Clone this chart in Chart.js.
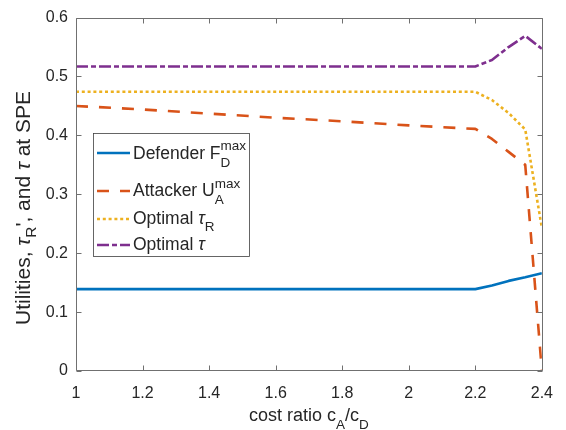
<!DOCTYPE html>
<html>
<head>
<meta charset="utf-8">
<script src="https://cdn.jsdelivr.net/npm/chart.js@4/dist/chart.umd.min.js"></script>
<style>
html,body{margin:0;padding:0;background:#ffffff;}
canvas{display:block;}
</style>
</head>
<body>
<canvas id="c" width="566" height="430"></canvas>
<script>
// ---- data ----
const costRatio   = [1.0, 1.2, 1.4, 1.6, 1.8, 2.0, 2.2, 2.25, 2.3, 2.35, 2.4];
const defenderF   = [0.139, 0.139, 0.139, 0.139, 0.139, 0.139, 0.139, 0.145, 0.153, 0.159, 0.166];
const attackerU   = [0.450, 0.444, 0.437, 0.430, 0.424, 0.417, 0.411, 0.394, 0.372, 0.350, 0.000];
const optimalTauR = [0.474, 0.474, 0.474, 0.474, 0.474, 0.474, 0.474, 0.460, 0.438, 0.410, 0.243];
const optimalTau  = [0.517, 0.517, 0.517, 0.517, 0.517, 0.517, 0.517, 0.528, 0.550, 0.569, 0.547];
const xTicks = [1, 1.2, 1.4, 1.6, 1.8, 2, 2.2, 2.4];
const yTicks = [0, 0.1, 0.2, 0.3, 0.4, 0.5, 0.6];
const xTickLabels = ['1', '1.2', '1.4', '1.6', '1.8', '2', '2.2', '2.4'];
const yTickLabels = ['0', '0.1', '0.2', '0.3', '0.4', '0.5', '0.6'];

const FONT = '"Liberation Sans", Arial, Helvetica, sans-serif';
const TXT = '#262626';
const AXC = '#707070';
const COLORS = {blue: '#0072BD', orange: '#D95319', yellow: '#EDB120', purple: '#7E2F8E'};
const DASH = {solid: [], dashed: [12, 11], dotted: [3, 2.8], dashdot: [12, 3, 5, 3]};

function pts(ys) { return costRatio.map((x, i) => ({x: x, y: ys[i]})); }

function ds(label, ys, color, dash) {
  return {
    label: label, data: pts(ys), borderColor: color, backgroundColor: color,
    borderWidth: 2.6, borderDash: dash, borderCapStyle: 'butt', borderJoinStyle: 'round',
    pointRadius: 0, tension: 0, fill: false
  };
}

function drawRuns(ctx, runs, x, y, measureOnly) {
  let cx = x, pend = 0;
  for (const r of runs) {
    ctx.font = (r.it ? 'italic ' : '') + r.s + 'px ' + FONT;
    const w = ctx.measureText(r.t).width;
    if (!measureOnly) ctx.fillText(r.t, cx, y + (r.dy || 0));
    if (r.stack) { pend = w; } else { cx += Math.max(w, pend); pend = 0; }
  }
  return cx - x;
}

const legendItems = [
  {color: COLORS.blue, dash: DASH.solid, lineY: 153, base: 158.5,
   runs: [{t: 'Defender F', s: 17.5}, {t: 'max', s: 13.5, dy: -8.5, stack: true}, {t: 'D', s: 13.5, dy: 8}]},
  {color: COLORS.orange, dash: DASH.dashed, lineY: 191, base: 196,
   runs: [{t: 'Attacker U', s: 17.5}, {t: 'max', s: 13.5, dy: -8.5, stack: true}, {t: 'A', s: 13.5, dy: 8}]},
  {color: COLORS.yellow, dash: DASH.dotted, lineY: 219, base: 224,
   runs: [{t: 'Optimal ', s: 17.5}, {t: 'τ', s: 17.5, it: true}, {t: 'R', s: 13.5, dy: 7}]},
  {color: COLORS.purple, dash: DASH.dashdot, lineY: 245, base: 250,
   runs: [{t: 'Optimal ', s: 17.5}, {t: 'τ', s: 17.5, it: true}]}
];

const decor = {
  id: 'decor',
  afterDatasetsDraw(chart) {
    const ctx = chart.ctx, a = chart.chartArea, xs = chart.scales.x, ys = chart.scales.y;
    ctx.save();
    // box + inward ticks
    const L = Math.round(a.left) + 0.5, R = Math.round(a.right) + 0.5;
    const T = Math.round(a.top) + 0.5, B = Math.round(a.bottom) - 0.5;
    ctx.strokeStyle = AXC; ctx.lineWidth = 1; ctx.setLineDash([]);
    ctx.beginPath();
    ctx.rect(L, T, R - L, B - T);
    for (const v of xTicks) {
      const px = Math.round(xs.getPixelForValue(v)) + 0.5;
      ctx.moveTo(px, B); ctx.lineTo(px, B - 5);
      ctx.moveTo(px, T); ctx.lineTo(px, T + 5);
    }
    for (const v of yTicks) {
      const py = Math.round(ys.getPixelForValue(v)) + 0.5;
      ctx.moveTo(L, py); ctx.lineTo(L + 5, py);
      ctx.moveTo(R, py); ctx.lineTo(R - 5, py);
    }
    ctx.stroke();

    // legend
    const bx = 93.5, by = 133.5, bw = 156, bh = 123;
    ctx.fillStyle = '#ffffff';
    ctx.fillRect(bx, by, bw, bh);
    ctx.strokeStyle = '#404040'; ctx.lineWidth = 0.8;
    ctx.strokeRect(bx, by, bw, bh);
    for (const it of legendItems) {
      ctx.strokeStyle = it.color; ctx.lineWidth = 2.6; ctx.lineCap = 'butt';
      ctx.setLineDash(it.dash);
      ctx.beginPath(); ctx.moveTo(97, it.lineY); ctx.lineTo(130, it.lineY); ctx.stroke();
      ctx.setLineDash([]);
      ctx.fillStyle = TXT; ctx.textAlign = 'left'; ctx.textBaseline = 'alphabetic';
      drawRuns(ctx, it.runs, 133, it.base);
    }

    // x title
    ctx.fillStyle = TXT; ctx.textAlign = 'left'; ctx.textBaseline = 'alphabetic';
    const xr = [{t: 'cost ratio c', s: 18}, {t: 'A', s: 13.5, dy: 8}, {t: '/c', s: 18}, {t: 'D', s: 13.5, dy: 8}];
    const xw = drawRuns(ctx, xr, 0, 0, true);
    drawRuns(ctx, xr, (a.left + a.right) / 2 - xw / 2, 421);

    // y title (rotated)
    const yr = [{t: 'Utilities, ', s: 21}, {t: 'τ', s: 21, it: true}, {t: 'R', s: 15.5, dy: 6},
                {t: "', and ", s: 21}, {t: 'τ', s: 21, it: true}, {t: ' at SPE', s: 21}];
    const yw = drawRuns(ctx, yr, 0, 0, true);
    ctx.translate(30, 208);
    ctx.rotate(-Math.PI / 2);
    drawRuns(ctx, yr, -yw / 2, 0);
    ctx.restore();
  }
};

new Chart(document.getElementById('c'), {
  type: 'line',
  data: {
    datasets: [
      ds('Defender F_D^max', defenderF, COLORS.blue, DASH.solid),
      ds('Attacker U_A^max', attackerU, COLORS.orange, DASH.dashed),
      ds('Optimal τ_R', optimalTauR, COLORS.yellow, DASH.dotted),
      ds('Optimal τ', optimalTau, COLORS.purple, DASH.dashdot)
    ]
  },
  options: {
    responsive: false, animation: false, devicePixelRatio: 1,
    layout: {padding: {top: 15, right: 23, left: 0, bottom: 0}},
    plugins: {legend: {display: false}, tooltip: {enabled: false}},
    scales: {
      x: {
        type: 'linear', min: 1, max: 2.4,
        grid: {display: false, drawTicks: false}, border: {display: false},
        afterBuildTicks: s => { s.ticks = xTicks.map(v => ({value: v})); },
        afterFit: s => { s.height = 59; },
        ticks: {
          padding: 13, color: TXT, font: {family: FONT, size: 16}, maxRotation: 0, autoSkip: false,
          callback: (v) => xTickLabels[xTicks.findIndex(t => Math.abs(t - v) < 1e-9)]
        }
      },
      y: {
        type: 'linear', min: 0, max: 0.6,
        grid: {display: false, drawTicks: false}, border: {display: false},
        afterBuildTicks: s => { s.ticks = yTicks.map(v => ({value: v})); },
        afterFit: s => { s.width = 76; },
        ticks: {
          padding: 8, color: TXT, font: {family: FONT, size: 16}, autoSkip: false,
          callback: (v) => yTickLabels[yTicks.findIndex(t => Math.abs(t - v) < 1e-9)]
        }
      }
    }
  },
  plugins: [decor]
});
</script>
</body>
</html>
